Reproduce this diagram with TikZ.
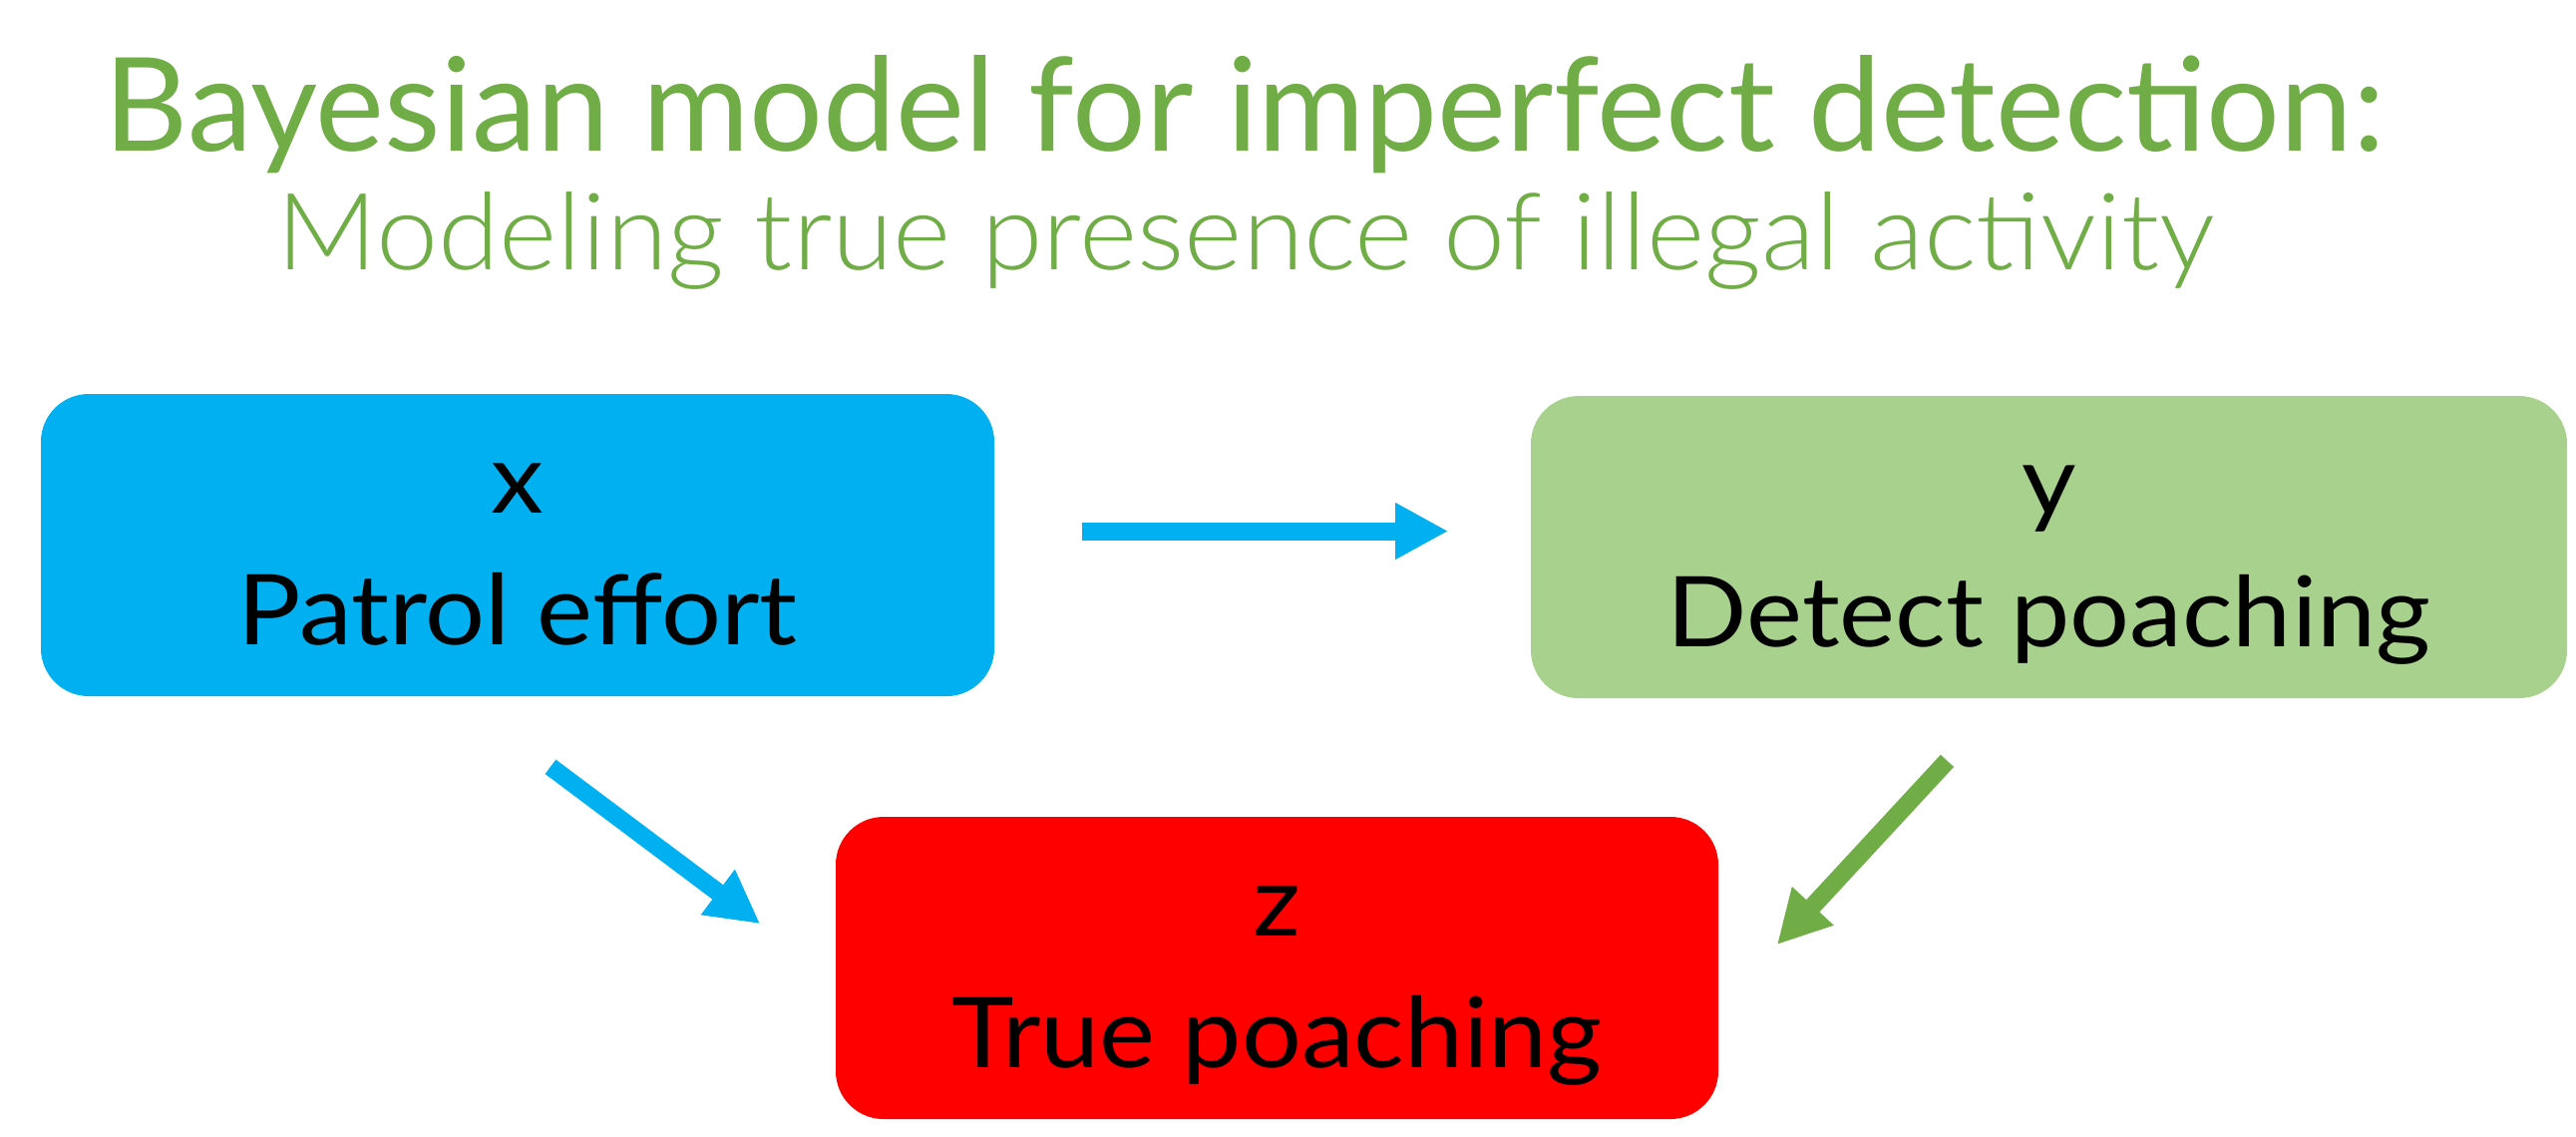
\documentclass[tikz,border=0pt]{standalone}
\usepackage{fontspec}
\setmainfont{Lato}
\newfontfamily\thinfont{Lato Light}[FakeStretch=1.04]
\newfontfamily\boxfont{Lato}[FakeStretch=1.08]
\usetikzlibrary{arrows.meta}
\definecolor{titlegreen}{RGB}{112,173,71}
\definecolor{boxblue}{RGB}{0,176,240}
\definecolor{boxgreen}{RGB}{169,209,142}
\definecolor{boxred}{RGB}{255,0,0}
\newcommand{\linestrut}{\rule[-5pt]{0pt}{27pt}}
\tikzset{
  varbox/.style={rectangle, rounded corners=12pt, minimum height=75.75pt, inner sep=0pt,
    align=center, text=black, font=\boxfont\fontsize{24.5}{33}\selectfont},
  fatarrow/.style={line width=4.5pt, -{Triangle[length=13.25pt,width=13.25pt]}}
}
\begin{document}
\begin{tikzpicture}[x=0.25pt,y=0.25pt,yscale=-1,xscale=1]
	\useasboundingbox (0,0) rectangle (2583,1139);

	% Text Node
	\node (title) at (1248,151) [anchor=base, text=titlegreen, font=\fontsize{32.6}{38}\selectfont] {Bayesian model for imperfect detection:};
	% Text Node
	\node (subtitle) at (1249,270) [anchor=base, text=titlegreen, font=\thinfont\fontsize{26.8}{31}\selectfont] {Modeling true presence of illegal activity};

	%Rounded Rect
	\node (xbox) at (519,546.5) [varbox, fill=boxblue, minimum width=239pt] {\linestrut x\\\linestrut Patrol effort};
	%Rounded Rect
	\node (ybox) at (2054.5,548.5) [varbox, fill=boxgreen, minimum width=259.75pt] {\linestrut y\\\linestrut Detect poaching};
	%Rounded Rect
	\node (zbox) at (1280.5,970.5) [varbox, fill=boxred, minimum width=221.25pt] {\linestrut z\\\linestrut True poaching};

	%Straight Lines
	\draw [fatarrow, boxblue] ([shift={(87,-14)}]xbox.east) -- ([shift={(-82,-16)}]ybox.west);
	\draw [fatarrow, boxblue] ([shift={(33,70)}]xbox.south) -- ([shift={(-75,108)}]zbox.north west);
	\draw [fatarrow, titlegreen] ([shift={(-102,62)}]ybox.south) -- ([shift={(58,129)}]zbox.north east);

\end{tikzpicture}
\end{document}
